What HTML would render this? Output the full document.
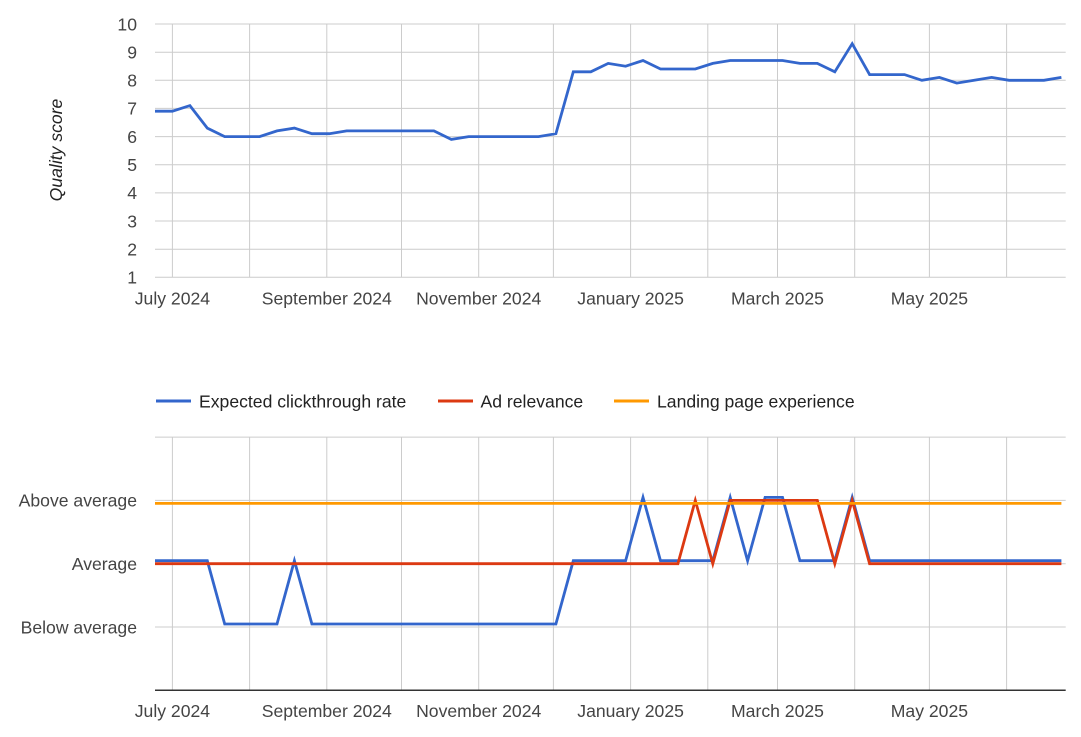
<!DOCTYPE html>
<html><head><meta charset="utf-8"><style>
html,body{margin:0;padding:0;background:#fff;}
svg{display:block;}
text{font-family:"Liberation Sans",Arial,sans-serif;font-size:17.6px;fill:#444;}
</style></head><body>
<svg width="1081" height="737" viewBox="0 0 1081 737" xmlns="http://www.w3.org/2000/svg">
<!-- TOP CHART -->
<g stroke="#cccccc" stroke-width="1" fill="none">
<line x1="155" y1="24" x2="1065.7" y2="24"/>
<line x1="155" y1="52.2" x2="1065.7" y2="52.2"/>
<line x1="155" y1="80.3" x2="1065.7" y2="80.3"/>
<line x1="155" y1="108.4" x2="1065.7" y2="108.4"/>
<line x1="155" y1="136.6" x2="1065.7" y2="136.6"/>
<line x1="155" y1="164.7" x2="1065.7" y2="164.7"/>
<line x1="155" y1="192.9" x2="1065.7" y2="192.9"/>
<line x1="155" y1="221" x2="1065.7" y2="221"/>
<line x1="155" y1="249.2" x2="1065.7" y2="249.2"/>
<line x1="155" y1="277.3" x2="1065.7" y2="277.3"/>
<line x1="172.4" y1="24" x2="172.4" y2="277.3"/>
<line x1="249.6" y1="24" x2="249.6" y2="277.3"/>
<line x1="326.8" y1="24" x2="326.8" y2="277.3"/>
<line x1="401.5" y1="24" x2="401.5" y2="277.3"/>
<line x1="478.7" y1="24" x2="478.7" y2="277.3"/>
<line x1="553.4" y1="24" x2="553.4" y2="277.3"/>
<line x1="630.6" y1="24" x2="630.6" y2="277.3"/>
<line x1="707.8" y1="24" x2="707.8" y2="277.3"/>
<line x1="777.5" y1="24" x2="777.5" y2="277.3"/>
<line x1="854.7" y1="24" x2="854.7" y2="277.3"/>
<line x1="929.4" y1="24" x2="929.4" y2="277.3"/>
<line x1="1006.6" y1="24" x2="1006.6" y2="277.3"/>
</g>
<g text-anchor="end">
<text x="137" y="30.3">10</text>
<text x="137" y="58.5">9</text>
<text x="137" y="86.6">8</text>
<text x="137" y="114.7">7</text>
<text x="137" y="142.9">6</text>
<text x="137" y="171">5</text>
<text x="137" y="199.2">4</text>
<text x="137" y="227.3">3</text>
<text x="137" y="255.5">2</text>
<text x="137" y="283.6">1</text>
</g>
<text transform="translate(62,150) rotate(-90)" text-anchor="middle" style="font-style:italic;fill:#222;">Quality score</text>
<g text-anchor="middle">
<text x="172.4" y="304.3">July 2024</text>
<text x="326.8" y="304.3">September 2024</text>
<text x="478.7" y="304.3">November 2024</text>
<text x="630.6" y="304.3">January 2025</text>
<text x="777.5" y="304.3">March 2025</text>
<text x="929.4" y="304.3">May 2025</text>
</g>
<polyline fill="none" stroke="#3366cc" stroke-width="2.8" points="155,111.2 172.4,111.2 189.9,105.6 207.3,128.1 224.7,136.6 242.2,136.6 259.6,136.6 277,130.9 294.4,128.1 311.9,133.7 329.3,133.7 346.7,130.9 364.2,130.9 381.6,130.9 399,130.9 416.5,130.9 433.9,130.9 451.3,139.4 468.7,136.6 486.2,136.6 503.6,136.6 521,136.6 538.5,136.6 555.9,133.7 573.3,71.8 590.8,71.8 608.2,63.4 625.6,66.2 643,60.5 660.5,69 677.9,69 695.3,69 712.8,63.4 730.2,60.5 747.6,60.5 765.1,60.5 782.5,60.5 799.9,63.4 817.3,63.4 834.8,71.8 852.2,43.7 869.6,74.6 887.1,74.6 904.5,74.6 921.9,80.3 939.4,77.4 956.8,83.1 974.2,80.3 991.6,77.4 1009.1,80.3 1026.5,80.3 1043.9,80.3 1061.4,77.4"/>

<!-- LEGEND -->
<line x1="156" y1="401" x2="191" y2="401" stroke="#3366cc" stroke-width="3"/>
<text x="199" y="407.3" style="fill:#222;">Expected clickthrough rate</text>
<line x1="438" y1="401" x2="473" y2="401" stroke="#dc3912" stroke-width="3"/>
<text x="480.5" y="407.3" style="fill:#222;">Ad relevance</text>
<line x1="614" y1="401" x2="649" y2="401" stroke="#ff9900" stroke-width="3"/>
<text x="657" y="407.3" style="fill:#222;">Landing page experience</text>

<!-- BOTTOM CHART -->
<g stroke="#cccccc" stroke-width="1" fill="none">
<line x1="155" y1="437.1" x2="1065.7" y2="437.1"/>
<line x1="155" y1="500.4" x2="1065.7" y2="500.4"/>
<line x1="155" y1="563.7" x2="1065.7" y2="563.7"/>
<line x1="155" y1="627" x2="1065.7" y2="627"/>
<line x1="172.4" y1="437.1" x2="172.4" y2="690.3"/>
<line x1="249.6" y1="437.1" x2="249.6" y2="690.3"/>
<line x1="326.8" y1="437.1" x2="326.8" y2="690.3"/>
<line x1="401.5" y1="437.1" x2="401.5" y2="690.3"/>
<line x1="478.7" y1="437.1" x2="478.7" y2="690.3"/>
<line x1="553.4" y1="437.1" x2="553.4" y2="690.3"/>
<line x1="630.6" y1="437.1" x2="630.6" y2="690.3"/>
<line x1="707.8" y1="437.1" x2="707.8" y2="690.3"/>
<line x1="777.5" y1="437.1" x2="777.5" y2="690.3"/>
<line x1="854.7" y1="437.1" x2="854.7" y2="690.3"/>
<line x1="929.4" y1="437.1" x2="929.4" y2="690.3"/>
<line x1="1006.6" y1="437.1" x2="1006.6" y2="690.3"/>
</g>
<line x1="155" y1="690.3" x2="1065.7" y2="690.3" stroke="#333" stroke-width="1.5"/>
<g text-anchor="end">
<text x="137" y="506.7">Above average</text>
<text x="137" y="570">Average</text>
<text x="137" y="633.3">Below average</text>
</g>
<g text-anchor="middle">
<text x="172.4" y="717">July 2024</text>
<text x="326.8" y="717">September 2024</text>
<text x="478.7" y="717">November 2024</text>
<text x="630.6" y="717">January 2025</text>
<text x="777.5" y="717">March 2025</text>
<text x="929.4" y="717">May 2025</text>
</g>
<polyline fill="none" stroke="#3366cc" stroke-width="2.8" points="155,560.7 207.3,560.7 224.7,624 277,624 294.4,560.7 311.9,624 555.9,624 573.3,560.7 625.6,560.7 643,497.4 660.5,560.7 712.8,560.7 730.2,497.4 747.6,560.7 765.1,497.4 782.5,497.4 799.9,560.7 834.8,560.7 852.2,497.4 869.6,560.7 1061.4,560.7"/>
<polyline fill="none" stroke="#dc3912" stroke-width="2.8" points="155,563.7 677.9,563.7 695.3,500.4 712.8,563.7 730.2,500.4 817.3,500.4 834.8,563.7 852.2,500.4 869.6,563.7 1061.4,563.7"/>
<polyline fill="none" stroke="#ff9900" stroke-width="2.8" points="155,503.4 1061.4,503.4"/>
</svg>
</body></html>
